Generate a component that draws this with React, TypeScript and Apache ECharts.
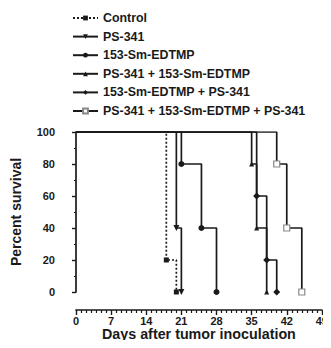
import React, { useEffect, useRef } from "react";
import * as echarts from "echarts";

const seriesNames = [
  "Control",
  "PS-341",
  "153-Sm-EDTMP",
  "PS-341 + 153-Sm-EDTMP",
  "153-Sm-EDTMP + PS-341",
  "PS-341 + 153-Sm-EDTMP + PS-341",
];
const controlDays = [0, 18, 20];
const controlSurv = [100, 20, 0];
const ps341Days = [0, 20, 21];
const ps341Surv = [100, 40, 0];
const smDays = [0, 21, 25, 28];
const smSurv = [100, 80, 40, 0];
const psSmDays = [0, 35, 36, 38];
const psSmSurv = [100, 80, 40, 0];
const smPsDays = [0, 36, 38, 40];
const smPsSurv = [100, 60, 20, 0];
const psSmPsDays = [0, 40, 42, 45];
const psSmPsSurv = [100, 80, 40, 0];
const xTicks = [0, 7, 14, 21, 28, 35, 42, 49];
const yTicks = [0, 20, 40, 60, 80, 100];

const FONT = "Liberation Sans, Arial, sans-serif";
const INK = "#1a1a1a";

function pts(days: number[], surv: number[]) {
  return days.map((d, i) =>
    i === 0 ? { value: [d, surv[i]], symbol: "none" } : { value: [d, surv[i]] }
  );
}

export default function App() {
  const ref = useRef<HTMLDivElement>(null);
  useEffect(() => {
    if (!ref.current) return;
    const chart = echarts.init(ref.current, undefined, { renderer: "svg" });
    const base = (name: string, data: any[], symbol: string, extra: any = {}) => ({
      name,
      type: "line",
      step: "end",
      data,
      symbol,
      symbolSize: 6,
      showAllSymbol: true,
      lineStyle: { color: INK, width: 1.7, type: "solid" },
      itemStyle: { color: INK, borderColor: INK, borderWidth: 0 },
      z: 3,
      ...extra,
    });
    chart.setOption({
      animation: false,
      backgroundColor: "#fff",
      textStyle: { fontFamily: FONT },
      legend: {
        orient: "vertical",
        left: 67,
        top: 7,
        itemWidth: 25,
        itemHeight: 6,
        itemGap: 6.6,
        data: seriesNames,
        textStyle: {
          fontFamily: FONT,
          fontWeight: "bold",
          fontSize: 12.4,
          lineHeight: 12,
          color: INK,
          padding: [0, 0, 0, 0],
        },
      },
      grid: { left: 76, right: 6, top: 132, bottom: 56 },
      xAxis: {
        type: "value",
        min: 0,
        max: 49,
        interval: 7,
        offset: 18,
        name: "Days after tumor inoculation",
        nameLocation: "middle",
        nameGap: 16,
        nameTextStyle: { fontFamily: FONT, fontWeight: "bold", fontSize: 14.3, color: INK },
        axisLine: { show: true, onZero: false, lineStyle: { color: INK, width: 1.7 } },
        axisTick: { show: true, length: 5, lineStyle: { color: INK, width: 1.4 } },
        minorTick: { show: true, splitNumber: 7, length: 3, lineStyle: { color: INK, width: 1.2 } },
        axisLabel: {
          fontFamily: FONT,
          fontWeight: "bold",
          fontSize: 11,
          color: INK,
          margin: 5,
          formatter: (v: number) => (xTicks.includes(v) ? String(v) : ""),
        },
        splitLine: { show: false },
      },
      yAxis: {
        type: "value",
        min: 0,
        max: 100,
        interval: 20,
        offset: 18,
        name: "Percent survival",
        nameLocation: "middle",
        nameGap: 35,
        nameTextStyle: { fontFamily: FONT, fontWeight: "bold", fontSize: 14, color: INK },
        axisLine: { show: true, lineStyle: { color: INK, width: 1.7 } },
        axisTick: { show: true, length: 4, lineStyle: { color: INK, width: 1.4 } },
        minorTick: { show: true, splitNumber: 2, length: 2, lineStyle: { color: INK, width: 1.2 } },
        axisLabel: {
          fontFamily: FONT,
          fontWeight: "bold",
          fontSize: 11,
          color: INK,
          margin: 3,
          formatter: (v: number) => (yTicks.includes(v) ? String(v) : ""),
        },
        splitLine: { show: false },
      },
      series: [
        base(seriesNames[0], pts(controlDays, controlSurv), "rect", {
          lineStyle: { color: INK, width: 1.7, type: [2, 2] },
          symbolSize: 5,
        }),
        base(seriesNames[1], pts(ps341Days, ps341Surv), "triangle", { symbolRotate: 180, symbolSize: 6 }),
        base(seriesNames[2], pts(smDays, smSurv), "circle", { symbolSize: 6 }),
        base(seriesNames[3], pts(psSmDays, psSmSurv), "triangle", { symbolSize: 5 }),
        base(seriesNames[4], pts(smPsDays, smPsSurv), "diamond", { symbolSize: 7 }),
        base(seriesNames[5], pts(psSmPsDays, psSmPsSurv), "rect", {
          symbolSize: 6,
          itemStyle: { color: "#fff", borderColor: "#888", borderWidth: 1.2 },
        }),
      ],
    });
    return () => chart.dispose();
  }, []);
  return <div ref={ref} style={{ width: 331, height: 348, margin: -8 }} />;
}
